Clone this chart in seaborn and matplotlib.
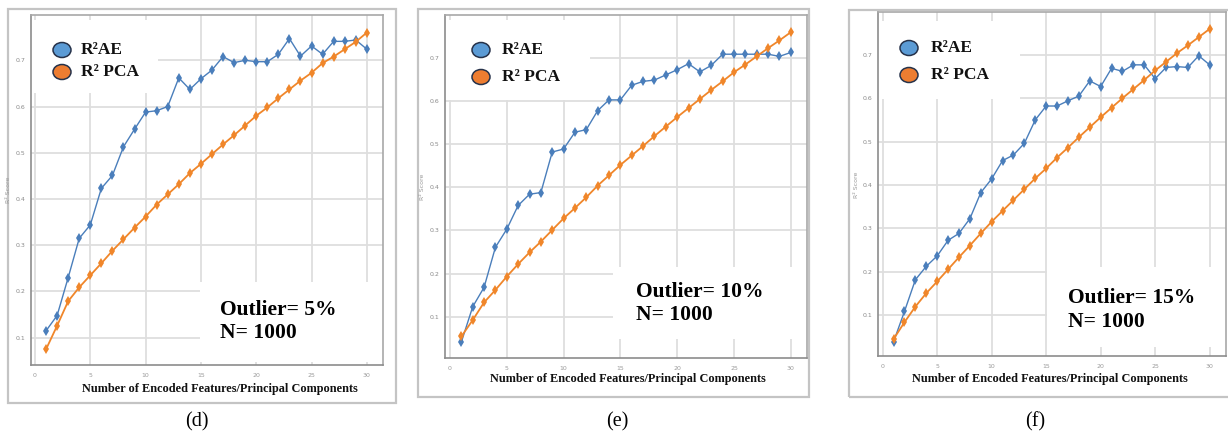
import numpy as np
import pandas as pd
import matplotlib
matplotlib.use("Agg")
import matplotlib.pyplot as plt
from matplotlib.patches import Rectangle, Ellipse
import seaborn as sns

# ---------------- data ----------------
components = list(range(1, 31))

ae_5 = [0.115, 0.148, 0.230, 0.315, 0.344, 0.423, 0.451, 0.513, 0.551, 0.588,
        0.591, 0.600, 0.662, 0.637, 0.660, 0.679, 0.708, 0.695, 0.700, 0.697,
        0.697, 0.713, 0.747, 0.709, 0.731, 0.713, 0.741, 0.741, 0.744, 0.724]
pca_5 = [0.075, 0.126, 0.179, 0.209, 0.235, 0.261, 0.288, 0.313, 0.338, 0.362,
         0.388, 0.410, 0.432, 0.456, 0.476, 0.497, 0.518, 0.538, 0.559, 0.580,
         0.598, 0.618, 0.637, 0.656, 0.673, 0.694, 0.708, 0.724, 0.740, 0.760]

ae_10 = [0.041, 0.123, 0.168, 0.261, 0.303, 0.358, 0.384, 0.388, 0.482, 0.489,
         0.528, 0.534, 0.578, 0.603, 0.603, 0.637, 0.646, 0.649, 0.661, 0.673,
         0.687, 0.668, 0.683, 0.709, 0.709, 0.709, 0.709, 0.709, 0.704, 0.713]
pca_10 = [0.054, 0.092, 0.133, 0.162, 0.193, 0.222, 0.249, 0.274, 0.301, 0.328,
          0.352, 0.377, 0.404, 0.428, 0.452, 0.474, 0.496, 0.519, 0.541, 0.563,
          0.584, 0.605, 0.626, 0.646, 0.667, 0.685, 0.704, 0.723, 0.741, 0.760]

ae_15 = [0.038, 0.108, 0.181, 0.212, 0.236, 0.272, 0.288, 0.322, 0.382, 0.414,
         0.456, 0.469, 0.496, 0.550, 0.582, 0.582, 0.594, 0.605, 0.640, 0.627,
         0.669, 0.662, 0.677, 0.677, 0.645, 0.671, 0.673, 0.671, 0.698, 0.677]
pca_15 = [0.044, 0.083, 0.119, 0.150, 0.177, 0.205, 0.233, 0.260, 0.288, 0.315,
          0.340, 0.365, 0.390, 0.415, 0.438, 0.463, 0.486, 0.510, 0.533, 0.556,
          0.578, 0.600, 0.621, 0.642, 0.664, 0.684, 0.704, 0.722, 0.741, 0.760]

series_names = ["R\u00b2AE", "R\u00b2 PCA"]
outlier_labels = ["Outlier= 5%", "Outlier= 10%", "Outlier= 15%"]
n_label = "N= 1000"
captions = ["(d)", "(e)", "(f)"]
xlabel_text = "Number of Encoded Features/Principal Components"
ylabel_text = "R\u00b2 Score"
xticks = [0, 5, 10, 15, 20, 25, 30]
yticks = [0.1, 0.2, 0.3, 0.4, 0.5, 0.6, 0.7]
ytick_labels = ["0.1", "0.2", "0.3", "0.4", "0.5", "0.6", "0.7"]

# ---------------- style ----------------
W, H = 1228, 437
sns.set_style("white")
plt.rcParams["font.family"] = ["Liberation Serif", "DejaVu Serif"]
blue_line = "#4a7ebb"
orange_line = "#f0862a"
blue_fill = "#5b9bd5"
orange_fill = "#ed7d31"

fig = plt.figure(figsize=(W / 100, H / 100), dpi=100)
fig.patch.set_facecolor("white")


def fx(x):
    return x / W


def fy(y):
    return 1 - y / H


panels = [
    dict(ae=ae_5, pca=pca_5, frame=(8, 9, 396, 403), axes=(31, 15, 383, 365),
         xlim=(-0.36, 31.46), ylim=(0.041, 0.798),
         legbox=(31, 20, 158, 93), legc=(62, 50, 72), legtx=81,
         annbox=(200, 282, 383, 362), ann=(220, 310, 333),
         xlab=(220, 389), ylab=(9, 190), cap=(197, 422)),
    dict(ae=ae_10, pca=pca_10, frame=(418, 9, 809, 397), axes=(445, 15, 807, 358),
         xlim=(-0.44, 31.43), ylim=(0.004, 0.800),
         legbox=(445, 20, 590, 100), legc=(481, 50, 77), legtx=502,
         annbox=(613, 267, 807, 339), ann=(636, 292, 315),
         xlab=(628, 379), ylab=(423, 187), cap=(617, 422)),
    dict(ae=ae_15, pca=pca_15, frame=(849, 10, 1232, 397), axes=(878, 12, 1226, 356),
         xlim=(-0.43, 31.5), ylim=(0.005, 0.799),
         legbox=(878, 21, 1020, 99), legc=(909, 48, 75), legtx=931,
         annbox=(1047, 267, 1226, 347), ann=(1068, 298, 322),
         xlab=(1050, 379), ylab=(857, 185), cap=(1035, 422)),
]

for i, p in enumerate(panels):
    # outer frame
    l, t, r, b = p["frame"]
    fig.patches.append(Rectangle((fx(l), fy(b)), fx(r) - fx(l), fy(t) - fy(b),
                                 transform=fig.transFigure, fill=False,
                                 edgecolor="#c4c4c4", linewidth=1.6, zorder=0))
    l, t, r, b = p["axes"]
    ax = fig.add_axes([fx(l), fy(b), fx(r) - fx(l), fy(t) - fy(b)])
    ax.set_facecolor("white")

    df = pd.DataFrame({
        "k": components * 2,
        "score": p["ae"] + p["pca"],
        "method": [series_names[0]] * 30 + [series_names[1]] * 30,
    })
    sns.lineplot(data=df[df.method == series_names[0]], x="k", y="score",
                 color=blue_line, marker="d", markersize=5.5, markeredgewidth=0,
                 linewidth=1.0, ax=ax, legend=False, zorder=3)
    sns.lineplot(data=df[df.method == series_names[1]], x="k", y="score",
                 color=orange_line, marker="d", markersize=5.5, markeredgewidth=0,
                 linewidth=1.3, ax=ax, legend=False, zorder=3)

    ax.set_xlim(*p["xlim"])
    ax.set_ylim(*p["ylim"])
    ax.set_xticks(xticks)
    ax.set_xticklabels([str(v) for v in xticks], fontsize=4.5, color="#9a9a9a",
                       family="DejaVu Sans")
    ax.set_yticks(yticks)
    ax.set_yticklabels(ytick_labels, fontsize=4.5, color="#8a8a8a",
                       family="DejaVu Sans")
    ax.tick_params(axis="both", length=2.5, width=0.8, color="#888888", pad=1.5)
    ax.tick_params(axis="x", pad=3)
    ax.grid(True, color="#dedede", linewidth=1.3)
    ax.set_axisbelow(True)
    for side, sp in ax.spines.items():
        sp.set_visible(True)
        sp.set_color("#8c8c8c" if side in ("left", "bottom") else "#a8a8a8")
        sp.set_linewidth(1.2)
    ax.set_xlabel("")
    ax.set_ylabel("")

    # white legend box
    l2, t2, r2, b2 = p["legbox"]
    ax.add_patch(Rectangle((fx(l2), fy(b2)), fx(r2) - fx(l2), fy(t2) - fy(b2),
                           transform=fig.transFigure, facecolor="white",
                           edgecolor="none", zorder=1.5))
    cx, cy1, cy2 = p["legc"]
    for cy, fc, name in [(cy1, blue_fill, series_names[0]),
                         (cy2, orange_fill, series_names[1])]:
        ax.add_patch(Ellipse((fx(cx), fy(cy)), 18 / W, 15 / H,
                             transform=fig.transFigure, facecolor=fc,
                             edgecolor="#26324a", linewidth=1.1, zorder=4,
                             clip_on=False))
        fig.text(fx(p["legtx"]), fy(cy), name, fontsize=12.5, fontweight="bold",
                 ha="left", va="center", color="#111111")

    # white annotation box
    l3, t3, r3, b3 = p["annbox"]
    ax.add_patch(Rectangle((fx(l3), fy(b3)), fx(r3) - fx(l3), fy(t3) - fy(b3),
                           transform=fig.transFigure, facecolor="white",
                           edgecolor="none", zorder=1.5))
    axx, ay1, ay2 = p["ann"]
    fig.text(fx(axx), fy(ay1), outlier_labels[i], fontsize=15.5,
             fontweight="bold", ha="left", va="center", color="black")
    fig.text(fx(axx), fy(ay2), n_label, fontsize=15.5,
             fontweight="bold", ha="left", va="center", color="black")

    # axis labels and caption
    fig.text(fx(p["xlab"][0]), fy(p["xlab"][1]), xlabel_text, fontsize=8.8,
             fontweight="bold", ha="center", va="center", color="#111111")
    fig.text(fx(p["ylab"][0]), fy(p["ylab"][1]), ylabel_text, fontsize=4.5,
             rotation=90, ha="center", va="center", color="#9a9a9a",
             family="DejaVu Sans")
    fig.text(fx(p["cap"][0]), fy(p["cap"][1]), captions[i], fontsize=14.5,
             ha="center", va="center", color="black")

fig.savefig("out.png", dpi=100, facecolor="white")
